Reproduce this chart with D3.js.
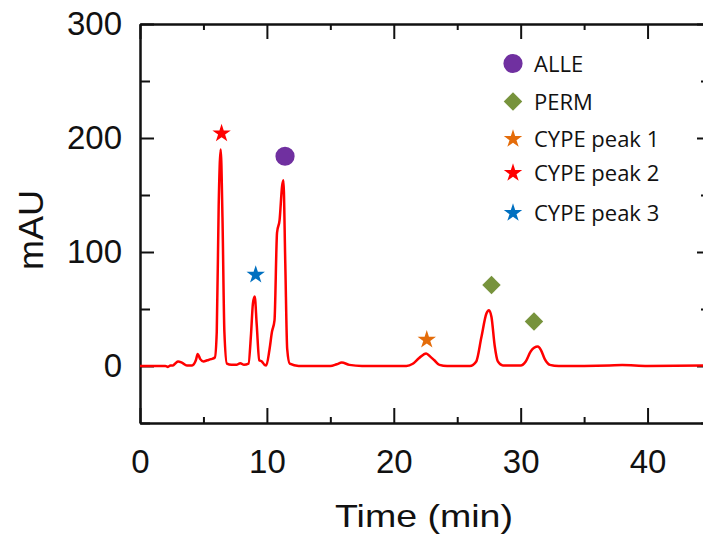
<!DOCTYPE html>
<html>
<head>
<meta charset="utf-8">
<script src="https://cdn.jsdelivr.net/npm/d3@7"></script>
<style>
  html, body { margin: 0; padding: 0; background: #fff; }
  #chart { width: 703px; height: 537px; overflow: hidden; }
</style>
</head>
<body>
<div id="chart"></div>
<script>
// chromatogram trace (time in min, absorbance in mAU)
const traceTime = [0, 1.5, 2.0, 2.2, 2.4, 2.6, 2.8, 3.0, 3.3, 3.7, 4.1, 4.4, 4.55, 4.75, 5.0, 5.3, 5.6, 5.9,
  6.05, 6.2, 6.36, 6.5, 6.65, 6.85, 7.2, 7.6, 7.9, 8.2, 8.55, 8.75, 8.9, 9.04, 9.2, 9.4, 9.6, 9.82, 9.95,
  10.2, 10.4, 10.6, 10.8, 11.0, 11.2, 11.3, 11.45, 11.6, 11.8, 12.5, 15.0, 15.5, 15.9, 16.5, 17.5,
  21.0, 21.5, 22.0, 22.55, 22.9, 23.2, 23.6, 24.2, 26.0, 26.5, 26.9, 27.3, 27.5, 27.7, 27.95, 28.2, 28.6,
  30.0, 30.4, 30.8, 31.35, 31.6, 31.9, 32.3, 33.0, 37.0, 38.0, 40.0, 45.0];
const traceValue = [0, 0, 0, -0.8, 0.5, 0.5, 2.5, 4, 3, 0.5, 0.5, 5, 10.5, 6, 4, 5, 6, 7.5,
  30, 140, 190, 130, 30, 2, 1, 1, 2.5, 1, 2, 28, 55, 61, 36, 5, 4, 1, 0.5,
  14, 30, 40, 117, 128, 158, 163, 90, 15, 2, 0, 0, 1.5, 3, 1, 0,
  0, 2, 7, 11, 8, 5, 1, 0, 0, 4, 25, 46, 49, 43, 18, 4, 0.5,
  0.5, 4, 13, 17, 14, 6, 1, 0, 0.5, 0.8, 0, 0.5];

// peak markers
const markerName = ["CYPE peak 2", "CYPE peak 3", "ALLE", "CYPE peak 1", "PERM", "PERM"];
const markerTime = [6.43, 9.12, 11.43, 22.6, 27.7, 31.05];
const markerValue = [204, 80, 184, 23, 71, 39];

// legend entries
const legendNames = ["ALLE", "PERM", "CYPE peak 1", "CYPE peak 2", "CYPE peak 3"];
const legendShapes = ["circle", "diamond", "star", "star", "star"];
const legendColors = ["#7030a0", "#77933c", "#e46c0a", "#ff0000", "#0070c0"];

const xMajor = [0, 10, 20, 30, 40];
const xMinor = [5, 15, 25, 35, 45];
const yMajor = [0, 100, 200, 300];
const yMinor = [-50, 50, 150, 250];

const colorByName = new Map(legendNames.map((n, i) => [n, legendColors[i]]));
const shapeByName = new Map(legendNames.map((n, i) => [n, legendShapes[i]]));

const outerWidth = 703, outerHeight = 537;
const margin = { top: 24, left: 140 };
const width = 571, height = 399;

const svg = d3.select("#chart").append("svg")
  .attr("width", outerWidth)
  .attr("height", outerHeight)
  .append("g")
  .attr("transform", `translate(${margin.left},${margin.top})`);

const x = d3.scaleLinear().domain([0, 45]).range([0, width]);
const y = d3.scaleLinear().domain([-50, 300]).range([height, 0]);

function styleAxis(g) {
  g.selectAll("path").attr("stroke", "#111").attr("stroke-width", 2);
  g.selectAll("line").attr("stroke", "#111").attr("stroke-width", 2);
  g.selectAll("text").attr("fill", "#111")
    .style("font-family", "'Liberation Sans', Arial, sans-serif")
    .style("font-size", "33px");
}

// minor ticks
svg.append("g").attr("transform", `translate(0,${height})`)
  .call(d3.axisBottom(x).tickValues(xMinor).tickSize(-6).tickSizeOuter(0).tickFormat(""))
  .call(styleAxis);
svg.append("g")
  .call(d3.axisTop(x).tickValues(xMinor).tickSize(-6).tickSizeOuter(0).tickFormat(""))
  .call(styleAxis);
svg.append("g")
  .call(d3.axisLeft(y).tickValues(yMinor).tickSize(-10).tickSizeOuter(0).tickFormat(""))
  .call(styleAxis);
svg.append("g").attr("transform", `translate(${width},0)`)
  .call(d3.axisRight(y).tickValues(yMinor).tickSize(-10).tickSizeOuter(0).tickFormat(""))
  .call(styleAxis);

// major ticks + labels
svg.append("g").attr("transform", `translate(0,${height})`)
  .call(d3.axisBottom(x).tickValues(xMajor).tickSize(-15).tickSizeOuter(0).tickPadding(27))
  .call(styleAxis);
svg.append("g")
  .call(d3.axisTop(x).tickValues(xMajor).tickSize(-15).tickSizeOuter(0).tickFormat(""))
  .call(styleAxis);
svg.append("g")
  .call(d3.axisLeft(y).tickValues(yMajor).tickSize(-14).tickSizeOuter(0).tickPadding(18))
  .call(styleAxis);
svg.append("g").attr("transform", `translate(${width},0)`)
  .call(d3.axisRight(y).tickValues(yMajor).tickSize(-14).tickSizeOuter(0).tickFormat(""))
  .call(styleAxis);

// trace
const trace = traceTime.map((t, i) => [t, traceValue[i]]);
svg.append("path")
  .datum(trace)
  .attr("fill", "none")
  .attr("stroke", "#ff0000")
  .attr("stroke-width", 2.5)
  .attr("stroke-linejoin", "round")
  .attr("d", d3.line().x(d => x(d[0])).y(d => y(d[1])).curve(d3.curveMonotoneX));

function symbolPath(shape) {
  if (shape === "circle") return d3.symbol(d3.symbolCircle, 290)();
  if (shape === "diamond") return d3.symbol(d3.symbolSquare, 170)();
  return d3.symbol(d3.symbolStar, 105)();
}

// markers above peaks
svg.selectAll(".marker")
  .data(markerName.map((n, i) => ({ name: n, t: markerTime[i], v: markerValue[i] })))
  .enter().append("path")
  .attr("class", "marker")
  .attr("d", d => symbolPath(shapeByName.get(d.name)))
  .attr("transform", d => `translate(${x(d.t)},${y(d.v)})` + (shapeByName.get(d.name) === "diamond" ? " rotate(45)" : ""))
  .attr("fill", d => colorByName.get(d.name));

// legend
const legendY = [39.5, 77.5, 115, 149, 189];
const legend = svg.append("g").attr("transform", `translate(${513 - margin.left},0)`);
legendNames.forEach((n, i) => {
  const row = legend.append("g").attr("transform", `translate(0,${legendY[i]})`);
  row.append("path")
    .attr("d", symbolPath(legendShapes[i]))
    .attr("transform", legendShapes[i] === "diamond" ? "rotate(45)" : null)
    .attr("fill", legendColors[i]);
  row.append("text")
    .attr("x", 21)
    .attr("y", 8)
    .attr("fill", "#111")
    .style("font-family", "'Open Sans', 'Noto Sans', sans-serif")
    .style("font-size", "22px")
    .text(n);
});

// axis titles
svg.append("text")
  .attr("x", 424 - margin.left)
  .attr("y", 527 - margin.top)
  .attr("text-anchor", "middle")
  .attr("textLength", 178)
  .attr("lengthAdjust", "spacingAndGlyphs")
  .attr("fill", "#111")
  .style("font-family", "'Liberation Sans', Arial, sans-serif")
  .style("font-size", "32px")
  .text("Time (min)");

svg.append("text")
  .attr("transform", `translate(${43 - margin.left},${230 - margin.top}) rotate(-90)`)
  .attr("text-anchor", "middle")
  .attr("textLength", 80)
  .attr("lengthAdjust", "spacingAndGlyphs")
  .attr("fill", "#111")
  .style("font-family", "'Liberation Sans', Arial, sans-serif")
  .style("font-size", "35px")
  .text("mAU");
</script>
</body>
</html>
